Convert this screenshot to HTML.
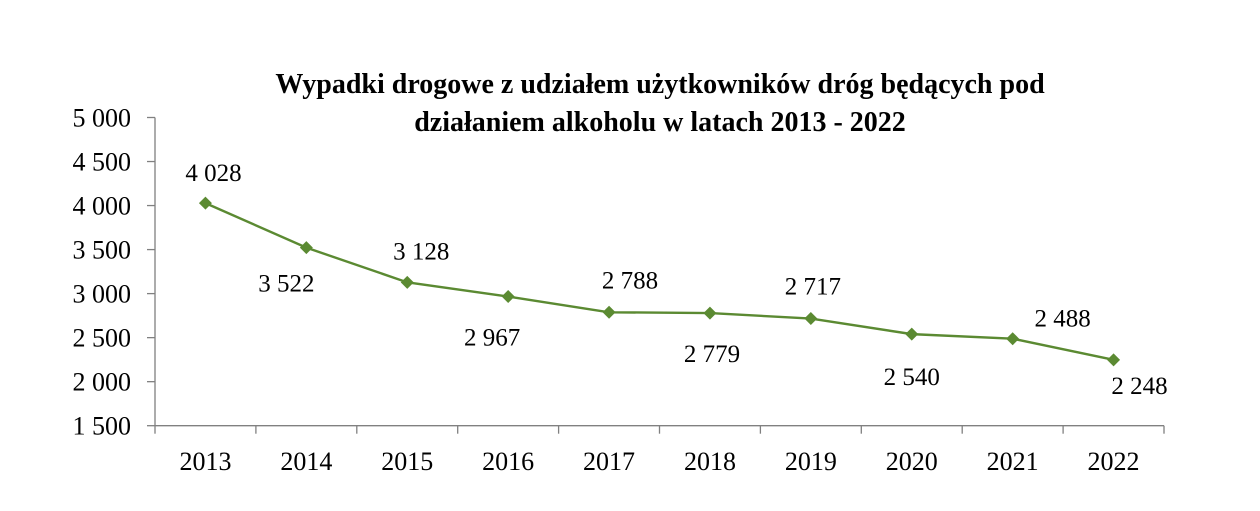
<!DOCTYPE html>
<html><head><meta charset="utf-8"><style>
body{margin:0;background:#fff;width:1260px;height:506px;overflow:hidden}
svg text{font-family:"Liberation Serif",serif;fill:#000}
</style></head><body>
<svg width="1260" height="506">
<text x="660" y="93" text-anchor="middle" font-size="28" font-weight="bold">Wypadki drogowe z udziałem użytkowników dróg będących pod</text>
<text x="660" y="131" text-anchor="middle" font-size="28" font-weight="bold">działaniem alkoholu w latach 2013 - 2022</text>
<g id="axes"></g><g id="series"></g>
</svg>
<script>
const years=["2013","2014","2015","2016","2017","2018","2019","2020","2021","2022"];
const values=[4028,3522,3128,2967,2788,2779,2717,2540,2488,2248];
const valueLabels=["4 028","3 522","3 128","2 967","2 788","2 779","2 717","2 540","2 488","2 248"];
const yTicks=[1500,2000,2500,3000,3500,4000,4500,5000];
const yTickLabels=["1 500","2 000","2 500","3 000","3 500","4 000","4 500","5 000"];
const labelDx=[8,-20,14,-16,21,2,2,0,50,26];
const labelDy=[-22,44,-23,49,-24,49,-24,51,-12,34];
const NS="http://www.w3.org/2000/svg";
const X0=155,X1=1164,Y0=425.7,Y1=117.5,YMIN=1500,YMAX=5000;
const bw=(X1-X0)/years.length;
const x=i=>X0+bw*(i+0.5);
const y=v=>Y0-(v-YMIN)/(YMAX-YMIN)*(Y0-Y1);
function mk(t,a,p){const e=document.createElementNS(NS,t);for(const k in a)e.setAttribute(k,a[k]);p.appendChild(e);return e;}
const ax=document.getElementById('axes'),se=document.getElementById('series');
let l=mk('line',{x1:X0,y1:Y1,x2:X0,y2:Y0,stroke:'#808080','stroke-width':1.3},ax);


l=mk('line',{x1:X0,y1:Y0,x2:X1,y2:Y0,stroke:'#808080','stroke-width':1.3},ax);


yTicks.forEach((v,i)=>{
 mk('line',{x1:X0-8,y1:y(v),x2:X0,y2:y(v),stroke:'#808080','stroke-width':1.3},ax);
 const t=mk('text',{x:131,y:y(v)+9,'text-anchor':'end','font-size':26},ax);
 t.textContent=yTickLabels[i];
 
 
});
for(let i=0;i<=years.length;i++){mk('line',{x1:X0+bw*i,y1:Y0,x2:X0+bw*i,y2:Y0+8,stroke:'#808080','stroke-width':1.3},ax);}
years.forEach((yr,i)=>{
 const t=mk('text',{x:x(i),y:470,'text-anchor':'middle','font-size':26},ax);
 t.textContent=yr;
 
 
});
const pl=mk('polyline',{points:values.map((v,i)=>x(i)+','+y(v)).join(' '),fill:'none',stroke:'#5b8a32','stroke-width':2.4},se);


values.forEach((v,i)=>{
 const cx=x(i),cy=y(v);
 const m=mk('polygon',{points:`${cx},${cy-6.5} ${cx+6.5},${cy} ${cx},${cy+6.5} ${cx-6.5},${cy}`,fill:'#5b8a32'},se);
 
 
 const t=mk('text',{x:cx+labelDx[i],y:cy+labelDy[i],'text-anchor':'middle','font-size':25},se);
 t.textContent=valueLabels[i];
 
 
});
</script>
</body></html>
